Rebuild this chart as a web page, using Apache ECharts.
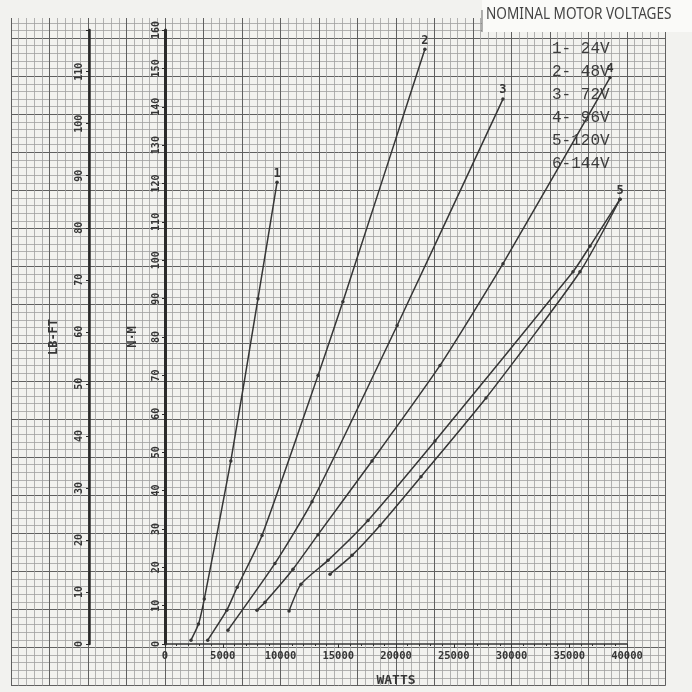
<!DOCTYPE html>
<html>
<head>
<meta charset="utf-8">
<script src="https://cdn.jsdelivr.net/npm/echarts@6/dist/echarts.min.js"></script>
<style>
    html, body { margin: 0; padding: 0; background: #f2f2ef; }
    #chart { width: 692px; height: 692px; }
</style>
</head>
<body>
<div id="chart"></div>
<script>
    // legend block (top right)
    const legendTitle = 'NOMINAL MOTOR VOLTAGES';
    const voltageLabels = ['1- 24V', '2- 48V', '3- 72V', '4- 96V', '5-120V', '6-144V'];

    // curve numbers written at the top end of each line
    const curveNames = ['1', '2', '3', '4', '5', ''];

    // watts (x) and torque in N·M (y)
    const watts1 = [2250, 2900, 3400, 5700, 8050, 9700];
    const torque1 = [1.0, 5.2, 11.7, 47.7, 90.0, 120.3];

    const watts2 = [3700, 5350, 6250, 8400, 13250, 15400, 22500];
    const torque2 = [1.0, 8.8, 14.8, 28.3, 70.0, 89.2, 155.0];

    const watts3 = [5450, 9520, 12730, 20100, 29260];
    const torque3 = [3.6, 21.0, 37.1, 83.0, 142.0];

    const watts4 = [7965, 8658, 11082, 13247, 17922, 23810, 29264, 38528];
    const torque4 = [8.8, 10.9, 19.5, 28.5, 47.7, 72.6, 99.1, 147.6];

    const watts5 = [10740, 11775, 14113, 17576, 23377, 35325, 36800, 39394];
    const torque5 = [8.6, 15.6, 21.8, 32.2, 52.9, 97.0, 103.7, 115.9];

    const watts6 = [14286, 16190, 18615, 22165, 27792, 35930, 39394];
    const torque6 = [18.2, 23.1, 30.9, 43.6, 64.1, 97.0, 115.9];

    // axis ticks
    const wattsMax = 40000, wattsStep = 5000;
    const nmMax = 160, nmStep = 10;
    const lbftStep = 10;
    const nmPerLbft = 1.35582;

    const allWatts = [watts1, watts2, watts3, watts4, watts5, watts6];
    const allTorque = [torque1, torque2, torque3, torque4, torque5, torque6];

    const ink = '#363636';
    const monoFont = "'DejaVu Sans Mono', monospace";

    let series = allWatts.map(function (ws, i) {
        let last = ws.length - 1;
        return {
            name: voltageLabels[i],
            type: 'line',
            xAxisIndex: 1,
            yAxisIndex: 1,
            smooth: 0.2,
            symbol: 'circle',
            symbolSize: 3.5,
            lineStyle: { color: ink, width: 1.5 },
            itemStyle: { color: ink },
            z: 3,
            data: ws.map(function (w, j) {
                let item = { value: [w, allTorque[i][j]] };
                if (j === last && curveNames[i]) {
                    item.label = {
                        show: true,
                        position: 'top',
                        distance: 1,
                        formatter: curveNames[i],
                        fontFamily: monoFont,
                        fontWeight: 'bold',
                        fontSize: 12,
                        color: ink
                    };
                }
                return item;
            })
        };
    });

    let legendTexts = voltageLabels.map(function (t, i) {
        return {
            type: 'text',
            left: 552,
            top: 41 + i * 23,
            z: 20,
            style: { text: t, fontFamily: "'Liberation Mono', monospace", fontSize: 16, fill: '#3c3c3c' }
        };
    });

    let option = {
        backgroundColor: '#f2f2ef',
        animation: false,
        grid: [
            // graph paper
            { left: 11, right: 26.5, top: -8.56, bottom: 6.44 },
            // plotting area
            { left: 165, right: 65, top: 30, bottom: 45 }
        ],
        xAxis: [{
            gridIndex: 0,
            type: 'value',
            min: -4 * 10000 / 3,
            max: 13 * 10000 / 3,
            interval: 10000 / 3,
            axisLine: { show: false },
            axisTick: { show: false },
            axisLabel: { show: false },
            splitLine: { show: true, lineStyle: { color: '#606060', width: 1 } },
            minorTick: { show: false, splitNumber: 5 },
            minorSplitLine: { show: true, lineStyle: { color: '#a0a0a0', width: 0.8 } }
        }, {
            gridIndex: 1,
            type: 'value',
            min: 0,
            max: wattsMax,
            interval: wattsStep,
            name: 'WATTS',
            nameLocation: 'middle',
            nameGap: 30,
            nameTextStyle: { fontFamily: monoFont, fontWeight: 'bold', fontSize: 13, color: ink },
            axisLine: { lineStyle: { color: '#333', width: 1.5 } },
            axisTick: { length: 4, lineStyle: { color: '#333' } },
            minorTick: { show: true, splitNumber: 5, length: 2, lineStyle: { color: '#333' } },
            axisLabel: {
                margin: 7, fontFamily: monoFont, fontWeight: 'bold', fontSize: 10.5, color: ink,
                formatter: function (v) { return String(v); }
            },
            splitLine: { show: false }
        }],
        yAxis: [{
            gridIndex: 0,
            type: 'value',
            min: -10,
            max: 170,
            interval: 10,
            axisLine: { show: false },
            axisTick: { show: false },
            axisLabel: { show: false },
            splitLine: { show: true, lineStyle: { color: '#606060', width: 1 } },
            minorTick: { show: false, splitNumber: 5 },
            minorSplitLine: { show: true, lineStyle: { color: '#a0a0a0', width: 0.8 } }
        }, {
            // N·M
            gridIndex: 1,
            type: 'value',
            position: 'left',
            min: 0,
            max: nmMax,
            interval: nmStep,
            name: 'N·M',
            nameLocation: 'middle',
            nameRotate: 90,
            nameGap: 26,
            nameTextStyle: { fontFamily: monoFont, fontWeight: 'bold', fontSize: 12, color: ink },
            axisLine: { show: true, lineStyle: { color: '#2a2a2a', width: 3 } },
            axisTick: { length: 3, lineStyle: { color: '#2a2a2a' } },
            axisLabel: { rotate: 90, margin: 4, fontFamily: monoFont, fontWeight: 'bold', fontSize: 10, color: ink },
            splitLine: { show: false }
        }, {
            // LB-FT
            gridIndex: 1,
            type: 'value',
            position: 'left',
            offset: 76,
            min: 0,
            max: nmMax / nmPerLbft,
            interval: lbftStep,
            name: 'LB-FT',
            nameLocation: 'middle',
            nameRotate: 90,
            nameGap: 29,
            nameTextStyle: { fontFamily: monoFont, fontWeight: 'bold', fontSize: 12, color: ink },
            axisLine: { show: true, lineStyle: { color: '#2a2a2a', width: 2.5 } },
            axisTick: { length: 3, lineStyle: { color: '#2a2a2a' } },
            axisLabel: {
                rotate: 90, margin: 5, fontFamily: monoFont, fontWeight: 'bold', fontSize: 10, color: ink,
                formatter: function (v) { return Math.abs(v % lbftStep) < 1e-6 ? String(v) : ''; }
            },
            splitLine: { show: false }
        }],
        graphic: [
            // trim the top of the sheet
            { type: 'rect', left: 0, top: 0, z: 10, shape: { width: 692, height: 18 }, style: { fill: '#f2f2ef' } },
            // white title box
            { type: 'rect', left: 482, top: 0, z: 11, shape: { width: 210, height: 32 }, style: { fill: '#fafaf8' } },
            { type: 'line', z: 12, shape: { x1: 482, y1: 10, x2: 482, y2: 32 }, style: { stroke: '#666', lineWidth: 1 } },
            {
                type: 'text', x: 486, y: 6, scaleX: 0.8, z: 20,
                style: { text: legendTitle, fontFamily: "'Noto Sans', sans-serif", fontSize: 17, fill: '#444' }
            }
        ].concat(legendTexts),
        series: series
    };

    let myChart = echarts.init(document.getElementById('chart'));
    myChart.setOption(option);
</script>
</body>
</html>
